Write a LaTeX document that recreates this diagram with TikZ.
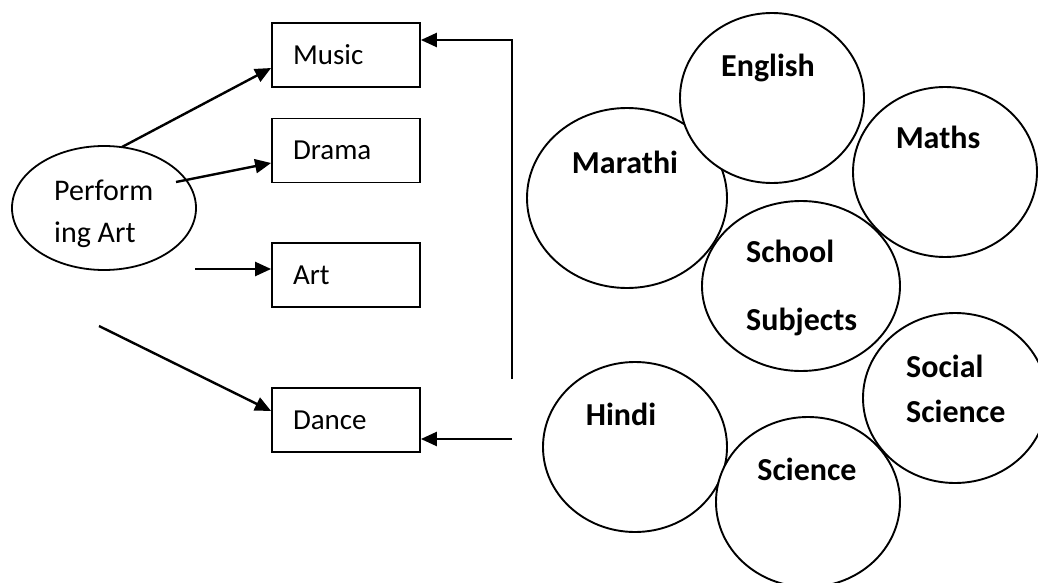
\documentclass[tikz,border=0pt]{standalone}
\usepackage{fontspec}
\setmainfont{Carlito}
\usetikzlibrary{arrows.meta, shapes.geometric}

\tikzset{
  box/.style={draw, line width=1.8pt, minimum width=148pt, minimum height=64pt,
    text width=106pt, inner xsep=21pt, align=left, font=\fontsize{29}{34}\selectfont},
  art/.style={draw, ellipse, line width=1.8pt, minimum width=184pt, minimum height=124pt},
  subj/.style={draw, ellipse, fill=white, line width=1.9pt, inner sep=0pt},
  lbl/.style={font=\fontsize{32}{36}\selectfont\bfseries, inner sep=0pt},
  arr/.style={line width=2.4pt, -{Triangle[length=16pt,width=14pt]}}
}

\begin{document}
\begin{tikzpicture}[x=1pt, y=-1pt]
\useasboundingbox (0,0) rectangle (1038,583);

\node[box] (music) at (346,55) {Music};
\node[box] (drama) at (346,150.5) {Drama};
\node[box] (art) at (346,275) {Art};
\node[box] (dance) at (346,420) {Dance};

\node[art] (perf) at (104,208) {};
\node[anchor=base west, inner sep=0pt, align=left, font=\fontsize{30}{42}\selectfont]
  (perf-t) at (54,242) {Perform\\ing Art};

\coordinate (a1) at (122,147);
\coordinate (a2) at (176,182);
\coordinate (a3) at (195,269);
\coordinate (a4) at (99,326);
\coordinate (v1) at (512,40);
\coordinate (v2) at (512,379);
\coordinate (v3) at (512,439);

\draw[arr] (a1) -- ([yshift=-13pt]music.west);
\draw[arr] (a2) -- ([yshift=-12.5pt]drama.west);
\draw[arr] (a3) -- ([yshift=6pt]art.west);
\draw[arr] (a4) -- ([yshift=9pt]dance.west);
\draw[arr] (v2) -- (v1) -- ([yshift=15pt]music.east);
\draw[arr] (v3) -- ([yshift=-19pt]dance.east);

\node[subj, minimum width=200pt, minimum height=180pt] (marathi) at (627,198) {};
\node[subj, minimum width=184pt, minimum height=170pt] (english) at (772,98) {};
\node[subj, minimum width=184pt, minimum height=170pt] (maths) at (945,172) {};
\node[subj, minimum width=198pt, minimum height=170pt] (school) at (801,286) {};
\node[subj, minimum width=184pt, minimum height=170pt] (hindi) at (635,447) {};
\node[subj, minimum width=184pt, minimum height=170pt] (socsci) at (955,398) {};
\node[subj, minimum width=184pt, minimum height=170pt] (science) at (808,502) {};

\node[lbl, anchor=base] (english-t) at (768,77) {English};
\node[lbl, anchor=base] (marathi-t) at (625,173) {Marathi};
\node[lbl, anchor=base] (maths-t) at (938,149) {Maths};
\node[lbl, anchor=base west] (school-t) at (746,262) {School};
\node[lbl, anchor=base west] (subjects-t) at (746,330) {Subjects};
\node[lbl, anchor=base] (hindi-t) at (621,425) {Hindi};
\node[lbl, anchor=base] (science-t) at (807,480) {Science};
\node[lbl, anchor=base west] (social-t) at (906,377) {Social};
\node[lbl, anchor=base west] (socsci-t) at (906,422) {Science};
\end{tikzpicture}
\end{document}
